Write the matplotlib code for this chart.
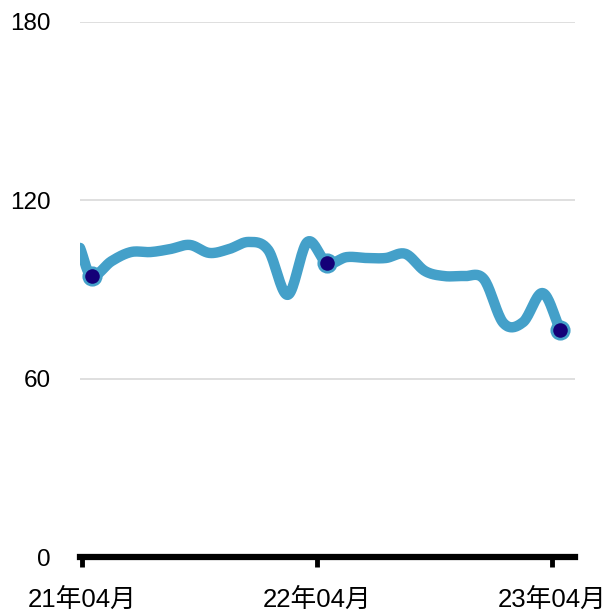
import numpy as np
import matplotlib
matplotlib.use("Agg")
import matplotlib.pyplot as plt

plt.rcParams['font.family'] = ['Liberation Sans', 'Noto Sans CJK SC', 'DejaVu Sans']

# months since 2021-04-01
months = [-0.1, 0.5, 1.5, 2.5, 3.5, 4.5, 5.5, 6.5, 7.5, 8.5, 9.5, 10.5, 11.5,
          12.5, 13.5, 14.5, 15.5, 16.5, 17.5, 18.5, 19.5, 20.5, 21.5, 22.5, 23.5, 24.4]
values = [104.0, 94.5, 99.5, 102.6, 102.6, 103.6, 105.0, 102.3, 103.6, 106.0, 103.3, 88.2, 106.0,
          98.9, 100.9, 100.6, 100.6, 102.0, 96.2, 94.5, 94.5, 93.5, 78.7, 79.0, 88.8, 76.4]
marker_months = [0.5, 12.5, 24.4]
marker_values = [94.5, 98.9, 76.4]
tick_pos = [0, 12, 24]
tick_labels = ['21年04月', '22年04月', '23年04月']
y_ticks = [0, 60, 120, 180]


def catmull_rom(x, y, n=20):
    x = np.asarray(x, float); y = np.asarray(y, float)
    px = np.concatenate([[2 * x[0] - x[1]], x, [2 * x[-1] - x[-2]]])
    py = np.concatenate([[2 * y[0] - y[1]], y, [2 * y[-1] - y[-2]]])
    ox, oy = [], []
    for i in range(1, len(px) - 2):
        t = np.linspace(0, 1, n, endpoint=False)
        for arr, out in ((px, ox), (py, oy)):
            p0, p1, p2, p3 = arr[i - 1], arr[i], arr[i + 1], arr[i + 2]
            out.extend(0.5 * ((2 * p1) + (-p0 + p2) * t + (2 * p0 - 5 * p1 + 4 * p2 - p3) * t ** 2
                              + (-p0 + 3 * p1 - 3 * p2 + p3) * t ** 3))
    ox.append(x[-1]); oy.append(y[-1])
    return np.array(ox), np.array(oy)


fig = plt.figure(figsize=(6.16, 6.12), dpi=100)
ax = fig.add_axes([80 / 616, 1 - 557 / 612, (575 - 80) / 616, (557 - 22) / 612])
ax.set_xlim(-0.1, 25.15)
ax.set_ylim(0, 180)

for yv in y_ticks[1:]:
    ax.axhline(yv, color='#d9d9d9', lw=1.2, zorder=0)

sx, sy = catmull_rom(months, values)
ax.plot(sx, sy, color='#44a0c9', lw=7.5, solid_capstyle='round', solid_joinstyle='round', zorder=2)
ax.plot(marker_months, marker_values, 'o', ms=12.5, mfc='#140078', mec='#44a0c9', mew=2, zorder=3)

for s in ['top', 'right', 'left']:
    ax.spines[s].set_visible(False)
ax.spines['bottom'].set_linewidth(4.5)
ax.spines['bottom'].set_color('black')
ax.set_xticks(tick_pos)
ax.set_xticklabels(tick_labels, fontsize=18.5)
ax.tick_params(axis='x', length=7, width=3.5, color='black', pad=15)
ax.set_yticks(y_ticks)
ax.set_yticklabels([str(v) for v in y_ticks], fontsize=17.5)
ax.tick_params(axis='y', length=0, pad=21)

fig.savefig('out.png', dpi=100)
